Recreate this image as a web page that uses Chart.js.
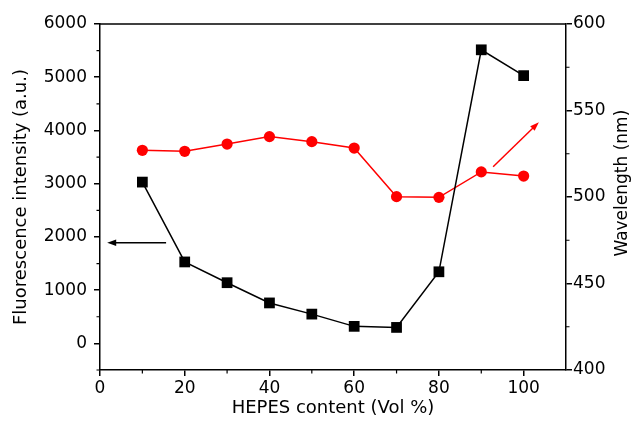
<!DOCTYPE html>
<html>
<head>
<meta charset="utf-8">
<script src="https://cdn.jsdelivr.net/npm/chart.js@4.4.0/dist/chart.umd.min.js"></script>
<style>
    html, body { margin: 0; padding: 0; background: #fff; }
    #wrap { width: 635px; height: 423px; }
</style>
</head>
<body>
<div id="wrap"><canvas id="chart"></canvas></div>
<script>
// data
const hepes = [10, 20, 30, 40, 50, 60, 70, 80, 90, 100];
const intensity = [3030, 1530, 1140, 760, 550, 320, 300, 1345, 5515, 5030];
const wavelength = [527, 526.4, 530.6, 534.9, 532, 528.3, 500.2, 499.8, 514.5, 512.1];

const xTicks = [0, 20, 40, 60, 80, 100];
const xMinor = [10, 30, 50, 70, 90];
const leftTicks = [0, 1000, 2000, 3000, 4000, 5000, 6000];
const leftMinor = [-500, 500, 1500, 2500, 3500, 4500, 5500];
const rightTicks = [400, 450, 500, 550, 600];
const rightMinor = [425, 475, 525, 575];
const rightTitle = 'Wavelength (nm)';

// arrows pointing to the axis of each series (data units)
const arrows = [
    {from: [15.6, 1890], to: [1.7, 1890], axis: 'y', color: '#000'},
    {from: [92.8, 517.5], to: [103.6, 543.2], axis: 'y1', color: '#f00'}
];

const fontFamily = '"DejaVu Sans", sans-serif';
const tickFont = {family: fontFamily, size: 17};
const titleFont = {family: fontFamily, size: 18};

function setTicks(list) {
    return function (scale) {
        scale.ticks = list.map(v => ({value: v}));
    };
}

const plainLabel = v => String(v);

const framePlugin = {
    id: 'frame',
    afterDraw(chart) {
        const ctx = chart.ctx;
        const a = chart.chartArea;
        const x = chart.scales.x, yl = chart.scales.y, yr = chart.scales.y1;
        ctx.save();
        ctx.strokeStyle = '#000';
        ctx.lineWidth = 1.5;
        ctx.beginPath();
        ctx.moveTo(a.left, a.top);
        ctx.lineTo(a.right, a.top);
        ctx.stroke();

        // minor ticks
        ctx.lineWidth = 1.2;
        ctx.beginPath();
        xMinor.forEach(v => {
            let p = x.getPixelForValue(v);
            ctx.moveTo(p, a.bottom);
            ctx.lineTo(p, a.bottom + 3.5);
        });
        leftMinor.forEach(v => {
            let p = yl.getPixelForValue(v);
            ctx.moveTo(a.left, p);
            ctx.lineTo(a.left - 3.5, p);
        });
        rightMinor.forEach(v => {
            let p = yr.getPixelForValue(v);
            ctx.moveTo(a.right, p);
            ctx.lineTo(a.right + 3.5, p);
        });
        ctx.stroke();

        // right axis title, reads bottom to top like the left one
        ctx.save();
        ctx.translate(yr.right - 12, yr.getPixelForValue(508));
        ctx.rotate(-Math.PI / 2);
        ctx.fillStyle = '#000';
        ctx.font = '17px ' + fontFamily;
        ctx.textAlign = 'center';
        ctx.textBaseline = 'middle';
        ctx.fillText(rightTitle, 0, 0);
        ctx.restore();

        // arrows
        arrows.forEach(ar => {
            let ys = chart.scales[ar.axis];
            let x1 = x.getPixelForValue(ar.from[0]), y1 = ys.getPixelForValue(ar.from[1]);
            let x2 = x.getPixelForValue(ar.to[0]), y2 = ys.getPixelForValue(ar.to[1]);
            let ang = Math.atan2(y2 - y1, x2 - x1);
            let len = 9, half = 3.2;
            ctx.strokeStyle = ar.color;
            ctx.fillStyle = ar.color;
            ctx.lineWidth = 1.5;
            ctx.beginPath();
            ctx.moveTo(x1, y1);
            ctx.lineTo(x2 - Math.cos(ang) * len * 0.8, y2 - Math.sin(ang) * len * 0.8);
            ctx.stroke();
            ctx.beginPath();
            ctx.moveTo(x2, y2);
            ctx.lineTo(x2 - Math.cos(ang) * len - Math.sin(ang) * half, y2 - Math.sin(ang) * len + Math.cos(ang) * half);
            ctx.lineTo(x2 - Math.cos(ang) * len + Math.sin(ang) * half, y2 - Math.sin(ang) * len - Math.cos(ang) * half);
            ctx.closePath();
            ctx.fill();
        });
        ctx.restore();
    }
};

const ctx = document.getElementById('chart').getContext('2d');
const chart = new Chart(ctx, {
    type: 'line',
    data: {
        datasets: [{
            label: 'Fluorescence intensity',
            data: hepes.map((v, i) => ({x: v, y: intensity[i]})),
            yAxisID: 'y',
            borderColor: '#000',
            backgroundColor: '#000',
            borderWidth: 1.5,
            pointStyle: 'rect',
            pointRadius: 7.6,
            pointBorderWidth: 0,
            tension: 0
        }, {
            label: 'Wavelength',
            data: hepes.map((v, i) => ({x: v, y: wavelength[i]})),
            yAxisID: 'y1',
            borderColor: '#f00',
            backgroundColor: '#f00',
            borderWidth: 1.5,
            pointStyle: 'circle',
            pointRadius: 5.6,
            pointBorderWidth: 0,
            tension: 0
        }]
    },
    options: {
        responsive: true,
        maintainAspectRatio: false,
        animation: false,
        layout: {padding: {top: 24, right: 0, left: 0, bottom: 0}},
        plugins: {legend: {display: false}, tooltip: {enabled: false}},
        scales: {
            x: {
                type: 'linear',
                min: 0,
                max: 110,
                afterBuildTicks: setTicks(xTicks),
                afterFit: s => { s.height = 53; },
                grid: {drawOnChartArea: false, tickLength: 6, color: '#000', lineWidth: 1.5},
                border: {color: '#000', width: 1.5},
                ticks: {color: '#000', font: tickFont, padding: 2, maxRotation: 0, autoSkip: false, callback: plainLabel},
                title: {display: true, text: 'HEPES content (Vol %)', color: '#000', font: titleFont, padding: {top: 0, bottom: 4}}
            },
            y: {
                position: 'left',
                min: -500,
                max: 6000,
                afterBuildTicks: setTicks(leftTicks),
                afterFit: s => { s.width = 100; },
                grid: {drawOnChartArea: false, tickLength: 6, color: '#000', lineWidth: 1.5},
                border: {color: '#000', width: 1.5},
                ticks: {color: '#000', font: tickFont, padding: 7, callback: plainLabel},
                title: {display: true, text: 'Fluorescence intensity (a.u.)', color: '#000', font: titleFont, padding: {top: 11, bottom: 0}}
            },
            y1: {
                position: 'right',
                min: 400,
                max: 600,
                afterBuildTicks: setTicks(rightTicks),
                afterFit: s => { s.width = 69; },
                grid: {drawOnChartArea: false, tickLength: 6, color: '#000', lineWidth: 1.5},
                border: {color: '#000', width: 1.5},
                ticks: {color: '#000', font: tickFont, padding: 1, callback: plainLabel},
                title: {display: false}
            }
        }
    },
    plugins: [framePlugin]
});
</script>
</body>
</html>
